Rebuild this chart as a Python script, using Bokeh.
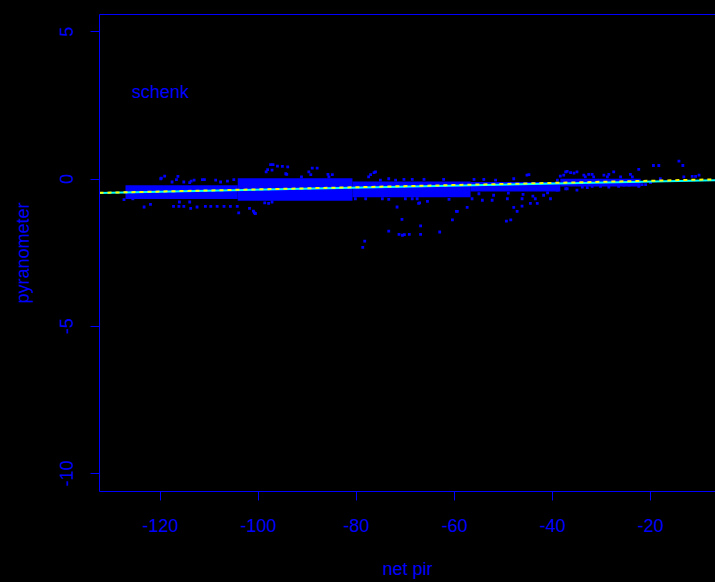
import math
from bokeh.plotting import figure
from bokeh.models import Range1d, FixedTicker, LinearAxis, Label
from bokeh.embed import file_html
from bokeh.resources import INLINE

# ---- data ----
x_ticks = [-120, -100, -80, -60, -40, -20]
y_ticks = [-10, -5, 0, 5]

# envelopes of the saturated (densely overplotted) core of the point cloud
band_left = [-127.1, -104.2, -80.8, -56.7, -38.4]
band_right = [-104.2, -80.8, -56.7, -38.4, -22.0]
band_top = [-0.21, 0.03, -0.08, -0.10, 0.01]
band_bottom = [-0.68, -0.74, -0.62, -0.42, -0.25]

# individual points outside the dense core
pts_x = [
    -119.9, -119.1, -116.4, -116.7, -117.6, -115.2, -113.7, -111.4, -111.0, -108.7,
    -107.7, -106.3, -105.0, -119.8, -114.0, -113.1, -98.4, -98.1, -97.5, -97.0,
    -96.1, -95.1, -94.0, -94.4, -94.2, -97.2, -91.2, -89.7, -89.0, -88.0,
    -89.3, -85.8, -84.9, -85.6, -77.1, -76.4, -76.1, -77.5, -75.1, -73.4,
    -72.0, -70.3, -68.6, -66.2, -62.2, -56.0, -54.0, -51.6, -47.9, -45.2,
    -44.8, -39.0, -38.4, -37.7, -37.0, -36.3, -35.0, -37.3, -35.6, -33.6,
    -33.3, -32.6, -31.9, -31.6, -29.5, -28.5, -27.5, -28.8, -26.1, -24.1,
    -23.7, -22.4, -19.4, -18.3, -14.2, -13.4, -13.2, -11.5, -10.8, -10.1,
    -18.0,
    -127.4, -126.4, -125.6, -126.6, -123.3, -122.0, -117.3, -116.2, -115.2, -113.8,
    -112.5, -110.8, -109.7, -108.4, -107.0, -105.7, -104.3, -104.0, -101.0, -100.8,
    -101.8, -116.1, -114.0, -98.7, -97.2, -97.9, -100.6, -80.2, -78.1, -74.7,
    -73.4, -70.0, -68.6, -71.7, -70.7, -73.4, -71.3, -70.6, -70.2, -69.2,
    -66.9, -66.9, -63.0, -60.4, -59.6, -57.4, -78.3, -78.7, -49.4, -48.5,
    -47.9, -47.2, -46.2, -44.5, -43.1, -40.4, -65.5, -61.1, -67.1, -67.6,
    -67.3, -56.4, -54.3, -52.3, -49.2, -46.2, -43.5, -59.4, -41.8, -39.0,
    -37.0, -37.3, -35.0, -33.9, -32.9, -31.9, -30.2, -28.5, -26.5, -25.4,
    -24.4, -22.4, -21.7, -21.0, -20.0, -55.0, -52.0, -49.0, -46.0, -44.0,
    -41.0,
]
pts_y = [
    0.01, 0.10, 0.09, -0.02, -0.10, -0.10, -0.07, -0.02, -0.02, -0.04,
    -0.10, -0.07, -0.02, 0.03, -0.12, -0.04, 0.24, 0.32, 0.49, 0.49,
    0.44, 0.43, 0.41, 0.18, 0.16, 0.30, 0.07, 0.24, 0.37, 0.37,
    0.15, 0.16, 0.15, 0.07, 0.15, 0.22, 0.24, 0.07, -0.04, 0.01,
    -0.04, -0.01, -0.01, -0.01, -0.01, -0.01, -0.01, -0.04, 0.01, 0.13,
    0.15, -0.04, 0.10, 0.13, 0.26, 0.22, 0.24, 0.24, 0.20, 0.13,
    0.07, 0.16, 0.16, 0.07, 0.13, 0.16, 0.24, 0.07, 0.07, 0.16,
    0.07, 0.33, 0.46, 0.46, 0.61, 0.46, 0.07, 0.09, 0.09, 0.13,
    0.01,
    -0.70, -0.61, -0.67, -0.55, -0.95, -0.86, -0.93, -0.93, -0.93, -1.00,
    -0.95, -0.93, -0.93, -0.93, -0.93, -0.93, -0.93, -1.15, -1.09, -1.15,
    -1.00, -0.78, -0.78, -0.81, -0.78, -0.83, -1.17, -0.67, -0.67, -0.67,
    -0.69, -0.67, -0.67, -0.95, -1.37, -1.77, -1.88, -1.91, -1.89, -1.88,
    -1.59, -1.88, -1.80, -1.39, -1.10, -0.96, -2.11, -2.32, -1.43, -1.39,
    -0.96, -1.10, -0.92, -0.83, -0.83, -0.67, -0.76, -0.69, -0.81, -0.67,
    -0.83, -0.67, -0.72, -0.72, -0.67, -0.67, -0.67, -1.10, -0.55, -0.38,
    -0.33, -0.33, -0.38, -0.27, -0.29, -0.25, -0.25, -0.27, -0.25, -0.21,
    -0.21, -0.25, -0.19, -0.19, -0.12, -0.50, -0.55, -0.48, -0.52, -0.58,
    -0.47,
]

# two fitted lines (intercept, slope)
fit_cyan = (-0.021, 0.00343)
fit_yellow = (0.015, 0.00366)

# ---- figure ----
BLUE = "#0000FF"
FONT = "Liberation Sans"
x0, x1 = -132.4, -6.74
y0, y1 = -10.614, 5.589

p = figure(width=715, height=582,
           x_range=Range1d(x0, x1), y_range=Range1d(y0, y1),
           output_backend="svg", toolbar_location=None,
           min_border_left=99, min_border_right=0,
           min_border_top=14, min_border_bottom=91,
           background_fill_color="black", border_fill_color="black",
           outline_line_color=None)
p.xgrid.visible = False
p.ygrid.visible = False

for ax, ticks in ((p.xaxis[0], x_ticks), (p.yaxis[0], y_ticks)):
    ax.ticker = FixedTicker(ticks=ticks)
    ax.major_label_overrides = {t: str(t) for t in ticks}
    ax.axis_line_color = BLUE
    ax.axis_line_width = 1
    ax.major_tick_line_color = BLUE
    ax.major_tick_in = 0
    ax.major_tick_out = 9
    ax.minor_tick_line_color = None
    ax.major_label_text_color = BLUE
    ax.major_label_text_font = FONT
    ax.major_label_text_font_size = "18px"
    ax.axis_label_text_color = BLUE
    ax.axis_label_text_font = FONT
    ax.axis_label_text_font_size = "18px"
    ax.axis_label_text_font_style = "normal"

p.xaxis[0].axis_label = "net pir"
p.xaxis[0].major_label_standoff = 18
p.xaxis[0].axis_label_standoff = 24
p.yaxis[0].axis_label = "pyranometer"
p.yaxis[0].major_label_orientation = "vertical"
p.yaxis[0].major_label_standoff = 17
p.yaxis[0].axis_label_standoff = 25

top = LinearAxis(ticker=FixedTicker(ticks=[]), axis_line_color=BLUE,
                 major_tick_line_color=None, minor_tick_line_color=None,
                 major_tick_out=0, major_tick_in=0, major_label_standoff=0,
                 major_label_text_font_size="0px")
p.add_layout(top, "above")

p.quad(left=band_left, right=band_right, top=band_top, bottom=band_bottom,
       fill_color=BLUE, line_color=None)
p.scatter(pts_x, pts_y, marker="square", size=2.8, fill_color=BLUE, line_color=None)

xs = [x0, x1]
p.line(xs, [fit_cyan[0] + fit_cyan[1] * x for x in xs], line_color="#00FFFF", line_width=2)
p.line(xs, [fit_yellow[0] + fit_yellow[1] * x for x in xs], line_color="#FFFF00",
       line_width=2, line_dash="4 4")

p.add_layout(Label(x=-120, y=2.97, text="schenk", text_align="center",
                   text_baseline="alphabetic", text_color=BLUE,
                   text_font=FONT, text_font_size="18px"))

html = file_html(p, INLINE, title="schenk")
html = html.replace("</head>", "<style>html,body{background:#000000;}</style></head>", 1)
open("out.html", "w").write(html)
